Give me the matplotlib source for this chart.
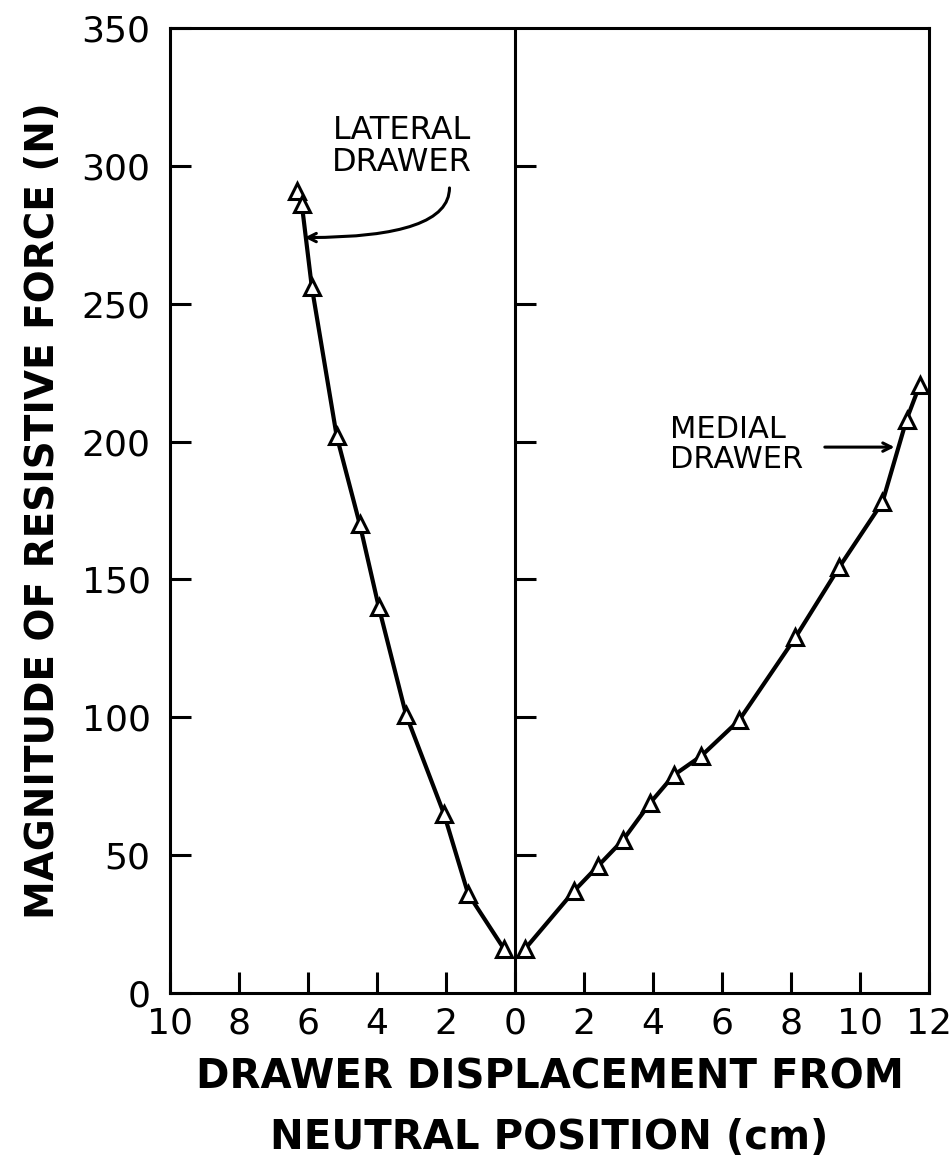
import numpy as np
import matplotlib
matplotlib.use("Agg")
import matplotlib.pyplot as plt

# Lateral drawer: displacement to the left of neutral (cm) and force (N)
lateral_disp = [6.33, 6.18, 5.89, 5.17, 4.50, 3.95, 3.16, 2.06, 1.36, 0.32]
lateral_force = [291, 286, 256, 202, 170, 140, 101, 65, 36, 16]

# Medial drawer: displacement to the right of neutral (cm) and force (N)
medial_disp = [0.29, 1.71, 2.40, 3.13, 3.92, 4.60, 5.40, 6.50, 8.13, 9.40, 10.65, 11.35, 11.73]
medial_force = [16, 37, 46, 55.5, 69, 79, 86, 99, 129, 154.5, 178, 208, 220.5]

xtick_pos = [-10, -8, -6, -4, -2, 0, 2, 4, 6, 8, 10, 12]
xtick_labels = ["10", "8", "6", "4", "2", "0", "2", "4", "6", "8", "10", "12"]
ytick_pos = [0, 50, 100, 150, 200, 250, 300, 350]

fig = plt.figure(figsize=(9.5, 11.72), dpi=100)
ax = fig.add_axes([0.179, 0.1527, 0.7989, 0.8234])

lw_axis = 2.2
for s in ax.spines.values():
    s.set_linewidth(lw_axis)

# the lateral side is plotted on the negative x half
lat_x = -np.array(lateral_disp)
ax.plot(lat_x, lateral_force, color="black", lw=3.0, zorder=3)
ax.plot(lat_x, lateral_force, ls="none", marker="^", ms=12, mfc="white",
        mec="black", mew=2.2, zorder=4)

ax.plot(medial_disp, medial_force, color="black", lw=3.0, zorder=3)
ax.plot(medial_disp, medial_force, ls="none", marker="^", ms=12, mfc="white",
        mec="black", mew=2.2, zorder=4)

# neutral position line with its own inward ticks
ax.axvline(0, color="black", lw=lw_axis, zorder=2)
for yt in ytick_pos[1:-1]:
    ax.plot([0, 0.6], [yt, yt], color="black", lw=lw_axis, solid_capstyle="butt", zorder=2)

ax.set_xlim(-10, 12)
ax.set_ylim(0, 350)
ax.set_xticks(xtick_pos)
ax.set_xticklabels(xtick_labels)
ax.set_yticks(ytick_pos)

ax.tick_params(axis="x", direction="in", length=15, width=lw_axis, pad=10,
               labelsize=26, top=False)
ax.tick_params(axis="y", direction="in", length=15, width=lw_axis, pad=14,
               labelsize=26, right=False)

ax.set_ylabel("MAGNITUDE OF RESISTIVE FORCE (N)", fontsize=28, fontweight="bold",
              labelpad=14)
ax.set_xlabel("DRAWER DISPLACEMENT FROM\nNEUTRAL POSITION (cm)", fontsize=29,
              fontweight="bold", labelpad=12, linespacing=1.65)

# annotations
ax.text(-3.28, 307, "LATERAL\nDRAWER", ha="center", va="center", fontsize=23,
        linespacing=1.05)
ax.annotate("", xy=(-6.1, 274), xytext=(-1.9, 292),
            arrowprops=dict(arrowstyle="->,head_length=0.6,head_width=0.3",
                            lw=2.2, color="black", shrinkA=0, shrinkB=0,
                            connectionstyle="angle3,angleA=90,angleB=0"))

ax.text(4.5, 199, "MEDIAL\nDRAWER", ha="left", va="center", fontsize=22,
        linespacing=1.05)
ax.annotate("", xy=(11.0, 198), xytext=(8.98, 198),
            arrowprops=dict(arrowstyle="->,head_length=0.6,head_width=0.3",
                            lw=2.2, color="black", shrinkA=0, shrinkB=0))

fig.savefig("out.png", dpi=100)
